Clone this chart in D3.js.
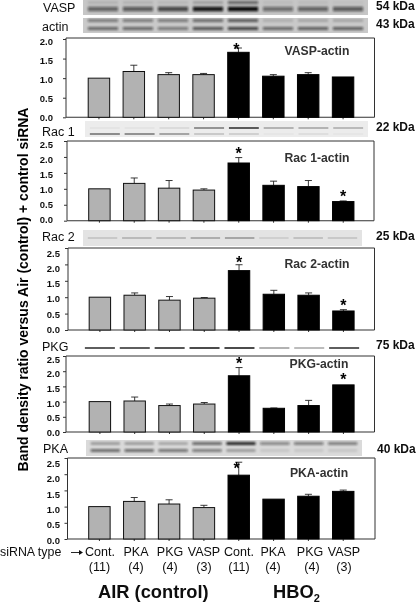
<!DOCTYPE html>
<html><head><meta charset="utf-8">
<script src="https://cdn.jsdelivr.net/npm/d3@7/dist/d3.min.js"></script>
<style>html,body{margin:0;padding:0;background:#fff}svg{display:block;font-family:"Liberation Sans",Arial,sans-serif}</style>
</head><body><svg id="c" width="416" height="603"></svg>
<script>
// ---------- data ----------
const categories = ["Cont.","PKA","PKG","VASP","Cont.","PKA","PKG","VASP"];
const counts = ["(11)","(4)","(4)","(3)","(11)","(4)","(4)","(3)"];
const groups = ["air","air","air","air","hbo","hbo","hbo","hbo"];

const vaspValues = [1.00,1.17,1.09,1.09,1.66,1.05,1.09,1.03];
const vaspErrTop = [1.00,1.33,1.14,1.12,1.77,1.09,1.14,1.03];
const vaspStars  = [4];
const rac1Values = [1.00,1.17,1.02,0.96,1.81,1.11,1.07,0.60];
const rac1ErrTop = [1.00,1.34,1.26,1.00,1.98,1.24,1.26,0.62];
const rac1Stars  = [4,7];
const rac2Values = [1.00,1.06,0.91,0.97,1.81,1.09,1.06,0.58];
const rac2ErrTop = [1.00,1.13,1.02,0.99,1.99,1.21,1.13,0.62];
const rac2Stars  = [4,7];
const pkgValues  = [1.00,1.02,0.87,0.92,1.85,0.78,0.87,1.55];
const pkgErrTop  = [1.00,1.15,0.92,0.97,2.12,0.79,1.04,1.55];
const pkgStars   = [4,7];
const pkaValues  = [1.00,1.16,1.08,0.97,1.97,1.23,1.32,1.47];
const pkaErrTop  = [1.00,1.28,1.21,1.04,2.37,1.23,1.38,1.51];
const pkaStars   = [4];

const ticks20 = [0,0.5,1,1.5,2];
const ticks25 = [0,0.5,1,1.5,2,2.5];

// band darkness per lane for each blot strip
const vaspBand  = [.55,.6,.7,.95,1,.5,.55,.6];
const vaspLow   = [.1,.1,.08,.2,.55,.06,.06,.04];
const actinHigh = [.5,.5,.5,.6,.7,.15,.2,.2];
const actinLow  = [.55,.55,.45,.65,.75,.55,.6,.6];
const rac1Upper = [.05,.05,.1,.6,.95,.35,.35,.3];
const rac1Lower = [.75,.7,.5,.25,.2,.05,.1,.05];
const rac2Band  = [.2,.3,.3,.4,.45,.15,.25,.2];
const pkgBand   = [.9,.9,.95,1,1,.45,.35,.9];
const pkaUpper  = [.3,.3,.25,.6,.95,.45,.5,.5];
const pkaLower  = [.6,.6,.55,.5,.3,.1,.1,.1];

// ---------- layout ----------
const svg = d3.select("#c");
const defs = svg.append("defs");
const addBlur = (id,sd)=>defs.append("filter").attr("id",id).attr("filterUnits","userSpaceOnUse")
    .attr("x",0).attr("y",0).attr("width",416).attr("height",603)
    .append("feGaussianBlur").attr("stdDeviation",sd);
addBlur("soft",0.35);
addBlur("bandBlur",0.9);
addBlur("thinBlur",0.4);
const root = svg.append("g").attr("filter","url(#soft)");
const laneX = d3.scaleBand().domain(d3.range(8)).paddingInner(0.385).paddingOuter(0.1925);

const panels = [
 {title:"VASP-actin",v:vaspValues,e:vaspErrTop,s:vaspStars,max:2,ticks:ticks20,l:66,r:374.5,t:38,b:117.3,top:39,lt:41,lb:117.5,lx:53,tx:317,ty:51,dx:0,starY:[51]},
 {title:"Rac 1-actin",v:rac1Values,e:rac1ErrTop,s:rac1Stars,max:2.5,ticks:ticks25,l:67,r:374,t:141,b:220.7,top:141,lt:144,lb:219,lx:53,tx:317,ty:157.5,dx:0.5,starY:[155,198]},
 {title:"Rac 2-actin",v:rac2Values,e:rac2ErrTop,s:rac2Stars,max:2.5,ticks:ticks25,l:68,r:374.5,t:248,b:330,top:248,lt:253,lb:329,lx:60,tx:317,ty:264,dx:1,starY:[264,307]},
 {title:"PKG-actin",v:pkgValues,e:pkgErrTop,s:pkgStars,max:2.5,ticks:ticks25,l:66,r:374.5,t:356,b:432,top:356,lt:359,lb:432,lx:60,tx:319,ty:364,dx:1,starY:[365,381]},
 {title:"PKA-actin",v:pkaValues,e:pkaErrTop,s:pkaStars,max:2.5,ticks:ticks25,l:67.5,r:375,t:458,b:539,top:458,lt:463,lb:540,lx:60,tx:319,ty:473,dx:0.5,starY:[470]}
];

panels.forEach(p=>{
  const y = d3.scaleLinear().domain([0,p.max]).range([p.b,p.top]);
  const yLab = d3.scaleLinear().domain([0,p.max]).range([p.lb,p.lt]);
  const g = root.append("g");
  g.append("path").attr("d",`M${p.l},${p.b}V${p.t}H${p.r}V${p.b}`).attr("fill","none").attr("stroke","#333").attr("stroke-width",1);
  const x = laneX.copy().range([81.5+p.dx,360.5+p.dx*0.3]);
  const ay = g.append("g").attr("transform",`translate(${p.l},0)`)
    .call(d3.axisLeft(y).tickValues(p.ticks).tickFormat(d3.format(".1f")).tickSize(3).tickPadding(0));
  ay.select(".domain").remove();
  ay.selectAll("line").attr("stroke","#333");
  ay.selectAll("text").attr("x",p.lx-p.l).attr("y",0)
    .attr("transform",d=>`translate(0,${yLab(d)-y(d)})`)
    .attr("dy","0.35em").attr("font-size",9.5).attr("font-weight","bold").attr("fill","#111")
    .attr("font-family","'Liberation Sans',Arial,sans-serif");
  const ax = g.append("g").attr("transform",`translate(0,${p.b})`)
    .call(d3.axisBottom(x).tickSize(2).tickFormat(""));
  ax.select(".domain").attr("d",`M${p.l},0H${p.r}`).attr("stroke","#333").attr("stroke-width",1.1);
  ax.selectAll("line").attr("stroke","#333");
  g.selectAll(".err").data(p.e).join("path").attr("fill","none").attr("stroke","#222").attr("stroke-width",0.9)
    .attr("d",(d,i)=>{const c=x(i)+x.bandwidth()/2;return d>p.v[i]?`M${c},${y(p.v[i])}V${y(d)}M${c-3.5},${y(d)}H${c+3.5}`:"";});
  g.selectAll(".bar").data(p.v).join("rect")
    .attr("x",(d,i)=>x(i)).attr("width",x.bandwidth())
    .attr("y",d=>y(d)).attr("height",d=>p.b-y(d))
    .attr("fill",(d,i)=>groups[i]==="air"?"#b2b2b2":"#000")
    .attr("stroke",(d,i)=>groups[i]==="air"?"#111":"#000").attr("stroke-width",1);
  g.append("text").attr("x",p.tx).attr("y",p.ty).attr("dy","0.35em").attr("text-anchor","middle")
    .attr("font-size",12.2).attr("font-weight","bold").attr("fill","#333").text(p.title);
  g.selectAll(".star").data(p.s).join("text")
    .attr("x",d=>x(d)+x.bandwidth()/2-(p.s.length===1?2:0)).attr("y",(d,i)=>p.starY[i]+4)
    .attr("text-anchor","middle").attr("font-size",16).attr("font-weight","bold").attr("fill","#000").text("*");
});

// ---------- blot strips ----------
function strip(s){
  const g = root.append("g");
  const x = d3.scaleBand().domain(d3.range(8)).range([s.x0,s.x1]).padding(s.pad||0.14);
  if(s.bg) g.append("rect").attr("x",s.x0).attr("y",s.y0).attr("width",s.x1-s.x0).attr("height",s.y1-s.y0).attr("fill",s.bg);
  s.rows.forEach(r=>{
    g.append("g").attr("filter",`url(#${s.blur||"bandBlur"})`).selectAll("rect").data(r.d).join("rect")
      .attr("x",(d,i)=>x(i)).attr("width",x.bandwidth())
      .attr("y",r.y-r.w/2).attr("height",r.w)
      .attr("fill","#111").attr("fill-opacity",d=>d);
  });
}
strip({x0:83,x1:368,y0:0,y1:15,bg:"#c6c6c6",rows:[{y:9,w:4.5,d:vaspBand},{y:2.5,w:3,d:vaspLow}]});
strip({x0:83,x1:368,y0:18,y1:33,bg:"#c9c9c9",rows:[{y:20.5,w:2.6,d:actinHigh},{y:28.5,w:3,d:actinLow}]});
strip({x0:85,x1:368,y0:121,y1:137,bg:"#ececec",blur:"thinBlur",rows:[{y:128,w:1.4,d:rac1Upper},{y:134,w:1.2,d:rac1Lower}]});
strip({x0:83,x1:362,y0:230,y1:246,bg:"#e3e3e3",blur:"thinBlur",rows:[{y:238,w:1.2,d:rac2Band}]});
strip({x0:80,x1:364,y0:338,y1:352,bg:null,blur:"thinBlur",pad:0.14,rows:[{y:348,w:1.5,d:pkgBand}]});
strip({x0:86,x1:362,y0:440,y1:456,bg:"#dadada",rows:[{y:443.5,w:2.8,d:pkaUpper},{y:450.5,w:2.8,d:pkaLower}]});

// ---------- strip labels ----------
const stripLabels = [["VASP",43,8],["actin",42,26.5],["Rac 1",42,131.5],["Rac 2",42,237],["PKG",42,347],["PKA",43,449]];
const kdaLabels = [["54 kDa",376,6],["43 kDa",376,24],["22 kDa",376,127],["25 kDa",376,236],["75 kDa",376,345],["40 kDa",377,449]];
const txt = (a,fs,w)=>root.append("g").selectAll("text").data(a).join("text")
  .attr("x",d=>d[1]).attr("y",d=>d[2]).attr("dy","0.35em").attr("font-size",fs).attr("font-weight",w).attr("fill","#111").text(d=>d[0]);
txt(stripLabels,12.5,"normal");
txt(kdaLabels,12,"bold");

// ---------- axis title ----------
root.append("text").attr("transform","translate(28,289.5) rotate(-90)").attr("text-anchor","middle")
  .attr("font-size",14).attr("font-weight","bold").attr("fill","#000")
  .text("Band density ratio versus Air (control) + control siRNA");

// ---------- bottom labels ----------
const labelX = [100,136,170,204,239,273,310,344];
const countX = [99.5,136,170,204,239,273,312,344];
root.append("text").attr("x",0).attr("y",552).attr("dy","0.35em").attr("font-size",12.4).attr("fill","#111").text("siRNA type");
root.append("path").attr("d","M71,552.5H82").attr("stroke","#111").attr("stroke-width",0.9);
root.append("path").attr("d","M79,550L83,552.5L79,555Z").attr("fill","#111");
root.append("g").selectAll("text").data(categories).join("text")
  .attr("x",(d,i)=>labelX[i]).attr("y",552).attr("dy","0.35em").attr("text-anchor","middle")
  .attr("font-size",12.5).attr("fill","#111").text(d=>d);
root.append("g").selectAll("text").data(counts).join("text")
  .attr("x",(d,i)=>countX[i]).attr("y",567).attr("dy","0.35em").attr("text-anchor","middle")
  .attr("font-size",12.5).attr("fill","#111").text(d=>d);
root.append("text").attr("x",98).attr("y",598).attr("font-size",18.3).attr("font-weight","bold").attr("fill","#111").text("AIR (control)");
const hbo = root.append("text").attr("x",273).attr("y",598).attr("font-size",18.3).attr("font-weight","bold").attr("fill","#111");
hbo.append("tspan").text("HBO");
hbo.append("tspan").attr("font-size",11).attr("dy",4).text("2");
</script></body></html>
